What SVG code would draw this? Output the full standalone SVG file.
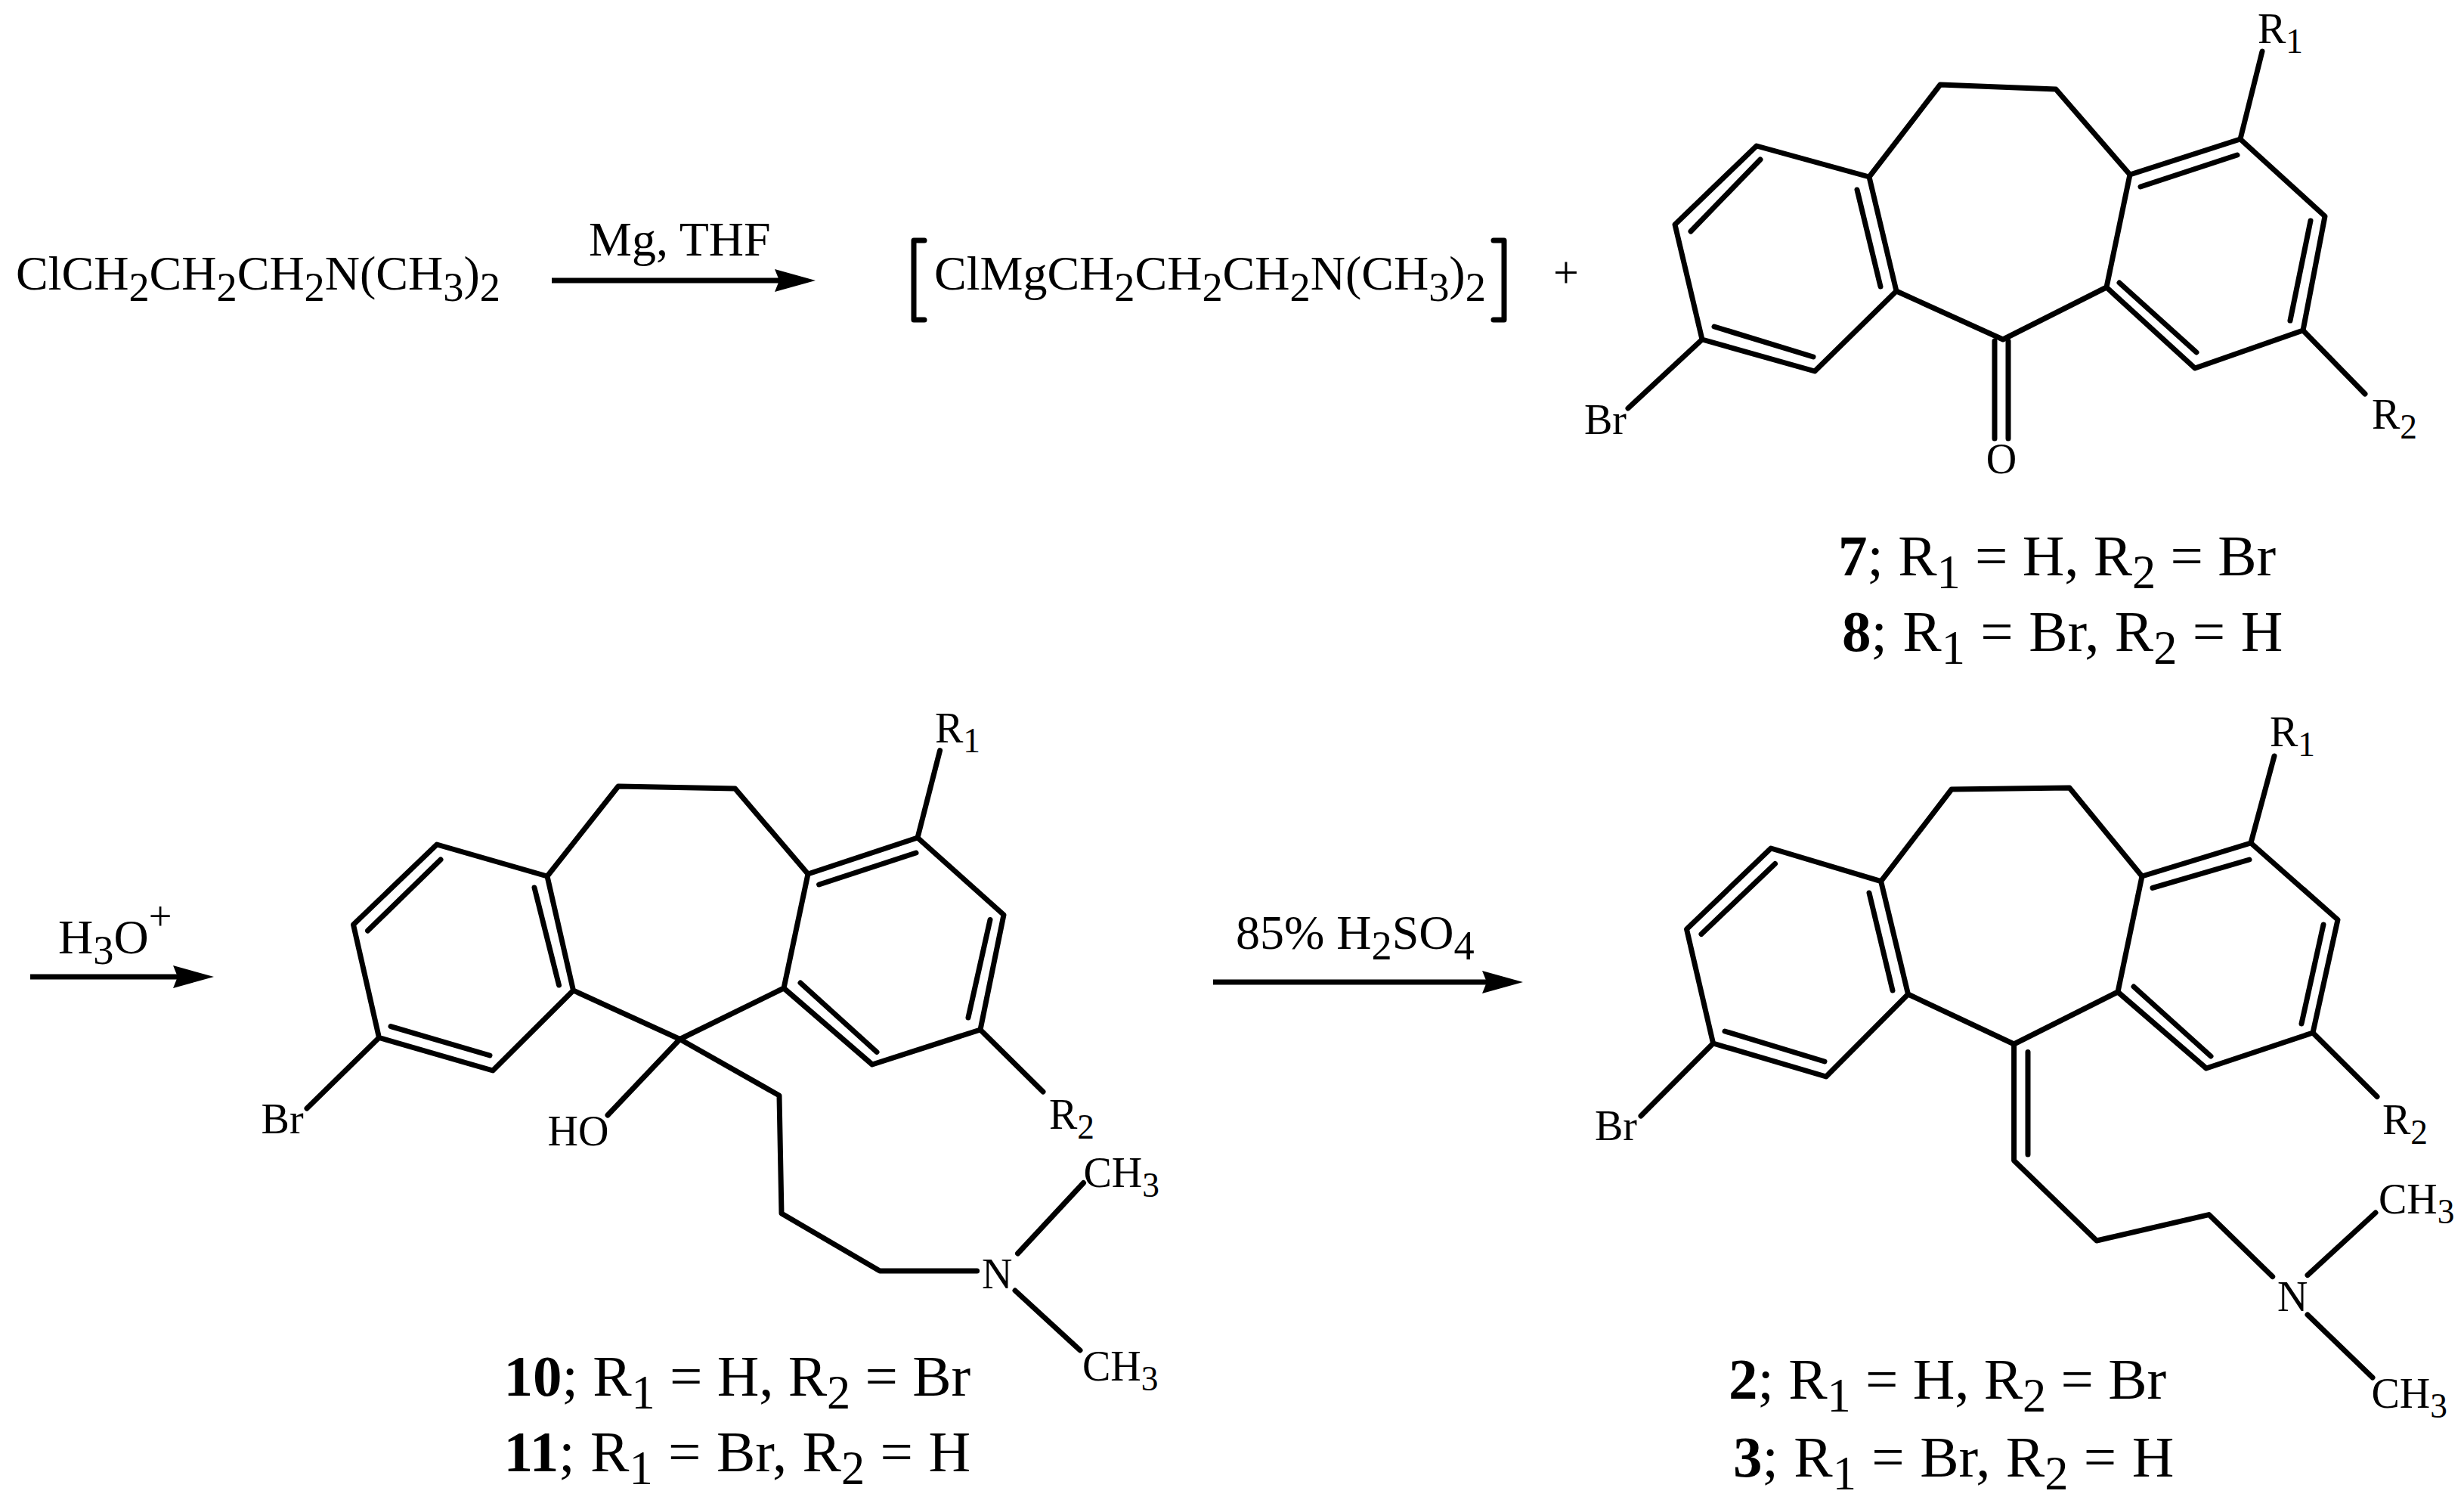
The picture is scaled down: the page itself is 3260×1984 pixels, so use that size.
<svg xmlns="http://www.w3.org/2000/svg" width="3260" height="1984" viewBox="0 0 3260 1984">
<style>
text{font-family:"Liberation Serif","Times New Roman",serif;fill:#000}
.r{font-size:64px}.a{font-size:56px}.l{font-size:77px}.p{font-size:60px}
.s{font-size:.81em}
.r .s{font-size:.85em}
.w{word-spacing:1.200px}
.b{fill:none;stroke:#000;stroke-width:7;stroke-linejoin:round;stroke-linecap:round}
.c{fill:none;stroke:#000;stroke-width:7}
</style>
<defs>
<marker id="h" markerUnits="userSpaceOnUse" markerWidth="56" markerHeight="32" refX="30" refY="16" orient="auto"><path d="M1 1L55 16L1 31L7 16Z" fill="#000"/></marker>
</defs>
<rect width="3260" height="1984" fill="#fff"/>
<g id="connectors">
<line class="c" x1="730" y1="371" x2="1054" y2="371" marker-end="url(#h)"/>
<line class="c" x1="40" y1="1292" x2="258" y2="1292" marker-end="url(#h)"/>
<line class="c" x1="1605" y1="1299" x2="1990" y2="1299" marker-end="url(#h)"/>
</g>
<g id="reagent-a"><text class="r" x="21" y="383">ClCH<tspan class="s" dy="15">2</tspan><tspan dy="-15">CH</tspan><tspan class="s" dy="15">2</tspan><tspan dy="-15">CH</tspan><tspan class="s" dy="15">2</tspan><tspan dy="-15">N(CH</tspan><tspan class="s" dy="15">3</tspan><tspan dy="-15">)</tspan><tspan class="s" dy="15">2</tspan></text></g>
<g id="label-mg"><text class="r" x="779" y="338">Mg, THF</text></g>
<g id="grignard">
<path class="b" d="M1223 318H1209V423H1223M1976 318H1990V423H1976"/>
<text class="r" x="1236" y="383">ClMgCH<tspan class="s" dy="15">2</tspan><tspan dy="-15">CH</tspan><tspan class="s" dy="15">2</tspan><tspan dy="-15">CH</tspan><tspan class="s" dy="15">2</tspan><tspan dy="-15">N(CH</tspan><tspan class="s" dy="15">3</tspan><tspan dy="-15">)</tspan><tspan class="s" dy="15">2</tspan></text>
</g>
<g id="plus"><text class="p" x="2072" y="380" text-anchor="middle">+</text></g>
<g id="compound-7-8">
<path class="b" d="M2324 193L2216 297L2252 449L2401 491L2509 385L2473 234ZM2473 234L2567 112L2720 118L2818 231L2964 184L3076 286L3047 437L2904 487L2787 380L2818 231M2509 385L2650 449L2787 380"/>
<path class="b" d="M2329 211L2237 306M2457 251L2488 379M2268 432L2399 472M2832 247L2960 205M3057 292L3030 424M2906 466L2804 374M2639 451V580M2657 451V580M2252 449L2154 540M2964 184L2993 68M3047 437L3129 521"/>
<text class="a" x="2096" y="574">Br</text>
<text class="a" x="2987" y="57">R<tspan class="s" dy="13">1</tspan></text>
<text class="a" x="3138" y="567">R<tspan class="s" dy="13">2</tspan></text>
<text class="a" x="2648" y="626" text-anchor="middle">O</text>
<text class="l" x="2432" y="761"><tspan font-weight="bold">7</tspan>; R<tspan class="s" dy="17">1</tspan><tspan dy="-17"> = H, R</tspan><tspan class="s" dy="17">2</tspan><tspan dy="-17"> = Br</tspan></text>
<text class="l w" x="2437" y="861"><tspan font-weight="bold">8</tspan>; R<tspan class="s" dy="17">1</tspan><tspan dy="-17"> = Br, R</tspan><tspan class="s" dy="17">2</tspan><tspan dy="-17"> = H</tspan></text>
</g>
<g id="label-h3o"><text class="r" x="77" y="1261">H<tspan class="s" dy="14">3</tspan><tspan dy="-14">O</tspan><tspan class="s" dy="-31">+</tspan></text></g>
<g id="compound-10-11">
<path class="b" d="M578 1117L467.500 1223L501.500 1372.500L652 1416L758.500 1310L724 1159ZM724 1159L818 1040L972.500 1043L1069 1156L1214 1108L1328 1210L1297 1362L1154 1408L1037 1307L1069 1156M758.500 1310L899.500 1374.500L1037 1307"/>
<path class="b" d="M583 1137L486.500 1231M707 1174L739.500 1303M517 1357.600L648 1396M1083.600 1170L1212 1128M1310 1216.500L1281 1346M1160 1391.500L1059 1300M501.500 1372.500L406 1466M1214 1108L1243.600 992.600M1297 1362L1380 1444M899.500 1374.500L804 1475M899.500 1374.500L1031 1449L1034 1605L1164 1681H1292.600M1346.500 1658L1433.500 1564.500M1343 1707L1429 1786"/>
<text class="a" x="345.600" y="1499">Br</text>
<text class="a" x="724.500" y="1515">HO</text>
<text class="a" x="1237" y="982">R<tspan class="s" dy="13">1</tspan></text>
<text class="a" x="1388" y="1493">R<tspan class="s" dy="13">2</tspan></text>
<text class="a" x="1299" y="1703.500">N</text>
<text class="a" x="1433.500" y="1570">CH<tspan class="s" dy="13">3</tspan></text>
<text class="a" x="1432" y="1826">CH<tspan class="s" dy="13">3</tspan></text>
<text class="l" x="666.500" y="1846"><tspan font-weight="bold">10</tspan>; R<tspan class="s" dy="17">1</tspan><tspan dy="-17"> = H, R</tspan><tspan class="s" dy="17">2</tspan><tspan dy="-17"> = Br</tspan></text>
<text class="l w" x="666.500" y="1946"><tspan font-weight="bold">11</tspan>; R<tspan class="s" dy="17">1</tspan><tspan dy="-17"> = Br, R</tspan><tspan class="s" dy="17">2</tspan><tspan dy="-17"> = H</tspan></text>
</g>
<g id="label-h2so4"><text class="r" x="1635" y="1255">85% H<tspan class="s" dy="14">2</tspan><tspan dy="-14">SO</tspan><tspan class="s" dy="14">4</tspan></text></g>
<g id="compound-2-3">
<path class="b" d="M2343 1122L2231.500 1229L2266.600 1380L2416 1424L2524.500 1315L2488.600 1165.600ZM2488.600 1165.600L2582 1044L2738 1042L2834 1159L2978 1115L3093 1216.500L3060 1366L2919 1413L2802 1312L2834 1159M2524.500 1315L2664.600 1381L2802 1312"/>
<path class="b" d="M2348.500 1142.500L2251 1235.500M2473 1181L2504 1310M2282 1364L2414 1404M2848 1174.400L2976 1137M3074 1223L3045 1354M2925 1397L2823 1305M2664.600 1381V1535L2774 1641L2922.500 1606.600L3006.700 1688.600M2683 1391.500V1527M2266.600 1380L2171 1476M2978 1115L3009 1000M3060 1366L3145 1450.500M3053 1686.600L3143 1604M3053 1739L3139 1822"/>
<text class="a" x="2110" y="1508">Br</text>
<text class="a" x="3003" y="986.500">R<tspan class="s" dy="13">1</tspan></text>
<text class="a" x="3152" y="1500">R<tspan class="s" dy="13">2</tspan></text>
<text class="a" x="3013" y="1734">N</text>
<text class="a" x="3147" y="1605">CH<tspan class="s" dy="13">3</tspan></text>
<text class="a" x="3137.500" y="1862">CH<tspan class="s" dy="13">3</tspan></text>
<text class="l" x="2287" y="1849.500"><tspan font-weight="bold">2</tspan>; R<tspan class="s" dy="17">1</tspan><tspan dy="-17"> = H, R</tspan><tspan class="s" dy="17">2</tspan><tspan dy="-17"> = Br</tspan></text>
<text class="l w" x="2293" y="1952.500"><tspan font-weight="bold">3</tspan>; R<tspan class="s" dy="17">1</tspan><tspan dy="-17"> = Br, R</tspan><tspan class="s" dy="17">2</tspan><tspan dy="-17"> = H</tspan></text>
</g>
</svg>
